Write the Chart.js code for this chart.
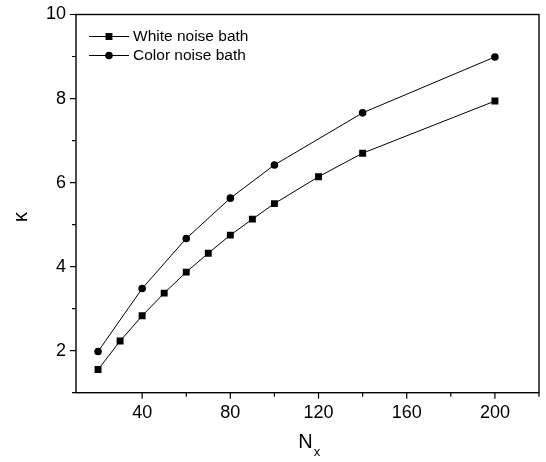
<!DOCTYPE html>
<html>
<head>
<meta charset="utf-8">
<script src="https://cdn.jsdelivr.net/npm/chart.js@4.4.1/dist/chart.umd.min.js"></script>
<style>
html,body{margin:0;padding:0;background:#fff;}
canvas{display:block;}
</style>
</head>
<body>
<canvas id="c" width="546" height="462"></canvas>
<script>
// ---- data ----
const whiteX = [20, 30, 40, 50, 60, 70, 80, 90, 100, 120, 140, 200];
const whiteY = [1.55, 2.23, 2.83, 3.37, 3.87, 4.32, 4.75, 5.13, 5.50, 6.14, 6.70, 7.94];
const colorX = [20, 40, 60, 80, 100, 140, 200];
const colorY = [1.98, 3.48, 4.67, 5.63, 6.42, 7.66, 8.99];
const seriesLabels = ['White noise bath', 'Color noise bath'];
const xTickLabels = [40, 80, 120, 160, 200];
const yTickLabels = [2, 4, 6, 8, 10];
const xTitle = 'N';
const xTitleSub = 'x';
const yTitle = 'κ';

const FONT = '"Liberation Sans", Arial, Helvetica, sans-serif';

const toPts = (xs, ys) => xs.map((x, i) => ({x: x, y: ys[i]}));

const framePlugin = {
  id: 'frame',
  afterDraw(chart) {
    const ctx = chart.ctx;
    const a = chart.chartArea;
    const xs = chart.scales.x, ys = chart.scales.y;
    ctx.save();
    ctx.strokeStyle = '#000';
    ctx.lineWidth = 1.4;
    ctx.strokeRect(a.left, a.top, a.right - a.left, a.bottom - a.top);
    // ticks
    ctx.lineWidth = 1.2;
    ctx.beginPath();
    xs.ticks.forEach(t => {
      if (t.value % 20 !== 0) return;
      const px = xs.getPixelForValue(t.value);
      const len = xTickLabels.includes(t.value) ? 6 : 4;
      ctx.moveTo(px, a.bottom);
      ctx.lineTo(px, a.bottom + len);
    });
    ys.ticks.forEach(t => {
      const py = ys.getPixelForValue(t.value);
      const len = yTickLabels.includes(t.value) ? 6 : 4;
      ctx.moveTo(a.left, py);
      ctx.lineTo(a.left - len, py);
    });
    ctx.stroke();

    // axis titles
    ctx.fillStyle = '#000';
    ctx.textBaseline = 'alphabetic';
    ctx.textAlign = 'left';
    ctx.font = '20px ' + FONT;
    const cx = (a.left + a.right) / 2;
    const nW = ctx.measureText(xTitle).width;
    const nx = cx - nW / 2 - 2;
    const nBase = 448;
    ctx.fillText(xTitle, nx, nBase);
    ctx.font = '13px ' + FONT;
    ctx.fillText(xTitleSub, nx + nW + 1, nBase + 8);

    ctx.save();
    ctx.translate(21, 217);
    ctx.rotate(-Math.PI / 2);
    ctx.font = '20px ' + FONT;
    ctx.textAlign = 'center';
    ctx.textBaseline = 'middle';
    ctx.fillText(yTitle, 0, 0);
    ctx.restore();

    // legend
    const rows = [a.top + 22, a.top + 41];
    chart.data.datasets.forEach((ds, i) => {
      const y = rows[i];
      const x0 = a.left + 13, x1 = a.left + 53;
      ctx.strokeStyle = '#000';
      ctx.lineWidth = 1;
      ctx.beginPath();
      ctx.moveTo(x0, y);
      ctx.lineTo(x1, y);
      ctx.stroke();
      ctx.fillStyle = '#000';
      Chart.helpers.drawPoint(ctx, {
        pointStyle: ds.pointStyle, radius: ds.pointRadius, rotation: 0, borderWidth: 0
      }, (x0 + x1) / 2, y);
      ctx.fillStyle = '#000';
      ctx.font = '15.5px ' + FONT;
      ctx.textAlign = 'left';
      ctx.textBaseline = 'middle';
      ctx.fillText(ds.label, x1 + 4, y + 0.5);
    });
    ctx.restore();
  }
};

new Chart(document.getElementById('c'), {
  type: 'line',
  data: {
    datasets: [
      {
        label: seriesLabels[0],
        data: toPts(whiteX, whiteY),
        borderColor: '#000',
        backgroundColor: '#000',
        borderWidth: 1,
        pointStyle: 'rect',
        pointRadius: 4.9,
        pointBorderWidth: 0,
        tension: 0
      },
      {
        label: seriesLabels[1],
        data: toPts(colorX, colorY),
        borderColor: '#000',
        backgroundColor: '#000',
        borderWidth: 1,
        pointStyle: 'circle',
        pointRadius: 3.8,
        pointBorderWidth: 0,
        tension: 0
      }
    ]
  },
  options: {
    responsive: false,
    animation: false,
    layout: { padding: { left: 0, top: 14.5, right: 7, bottom: 0 } },
    plugins: { legend: { display: false }, tooltip: { enabled: false } },
    scales: {
      x: {
        type: 'linear',
        min: 10, max: 220,
        grid: { display: false, drawTicks: false },
        border: { display: false },
        ticks: {
          stepSize: 20,
          padding: 10,
          maxRotation: 0,
          autoSkip: false,
          color: '#000',
          font: { family: FONT, size: 18 },
          callback: v => xTickLabels.includes(v) ? String(v) : ''
        },
        afterFit: s => { s.height = 69.3; s.paddingLeft = 0; s.paddingRight = 0; }
      },
      y: {
        type: 'linear',
        min: 1, max: 10,
        grid: { display: false, drawTicks: false },
        border: { display: false },
        ticks: {
          stepSize: 1,
          padding: 10,
          autoSkip: false,
          color: '#000',
          font: { family: FONT, size: 18 },
          callback: v => yTickLabels.includes(v) ? String(v) : ''
        },
        afterFit: s => { s.width = 76; s.paddingTop = 0; s.paddingBottom = 0; }
      }
    }
  },
  plugins: [framePlugin]
});
</script>
</body>
</html>
